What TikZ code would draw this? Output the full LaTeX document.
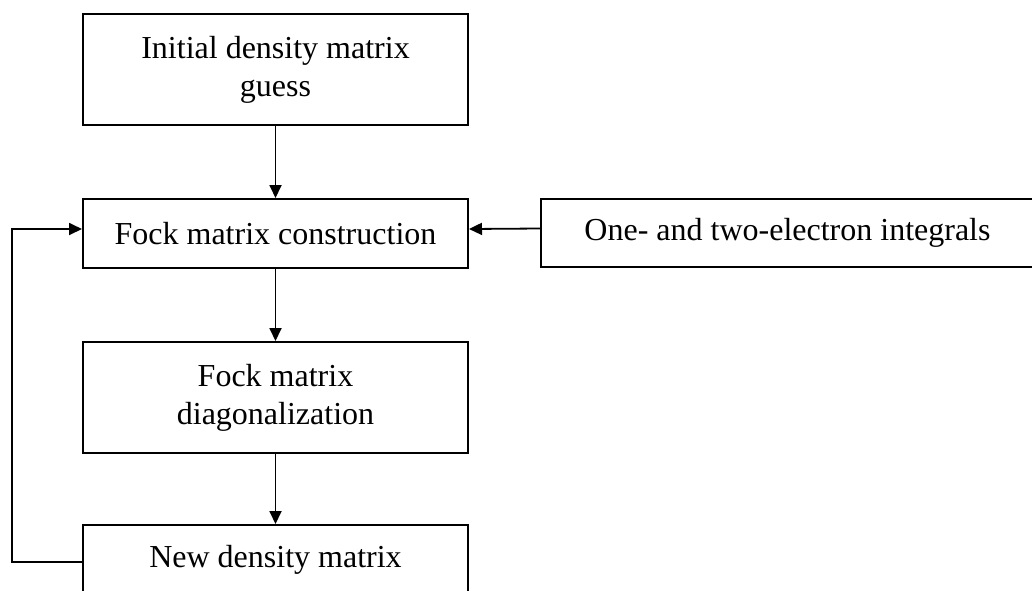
\documentclass[tikz,border=0pt]{standalone}
\usepackage{fontspec}
\setmainfont{Liberation Serif}
\usetikzlibrary{arrows.meta}
\begin{document}
\begin{tikzpicture}[x=1pt,y=-1pt,
  box/.style={draw, line width=2pt, rectangle, font=\fontsize{32}{38}\selectfont, align=center, inner sep=0pt},
  conn/.style={line width=1.8pt, -{Triangle[length=13pt,width=12pt]}}]
\useasboundingbox (0,0) rectangle (1032,590);
\clip (0,0) rectangle (1032,590);
\node[box, minimum width=385pt, minimum height=111pt] (init) at (275.5,69.5) {Initial density matrix\\guess};
\node[box, minimum width=385pt, minimum height=69pt] (fock) at (275.5,233.5) {Fock matrix construction};
\node[box, minimum width=493pt, minimum height=68pt] (ints) at (787.5,233) {One- and two-electron integrals};
\node[box, minimum width=385pt, minimum height=111pt] (diag) at (275.5,397.5) {Fock matrix\\diagonalization};
\node[box, minimum width=385pt, minimum height=69pt] (new) at (275.5,559.5) {New density matrix};
\coordinate (loop) at (12,400);
\draw[conn] (init.south) -- (fock.north);
\draw[conn] (fock.south) -- (diag.north);
\draw[conn] (diag.south) -- (new.north);
\draw[conn] ([yshift=4.5pt]ints.west) -- ([yshift=4.5pt]fock.east);
\draw[conn] ([yshift=-2.5pt]new.west) -| (loop) |- ([yshift=4.5pt]fock.west);
\end{tikzpicture}
\end{document}
